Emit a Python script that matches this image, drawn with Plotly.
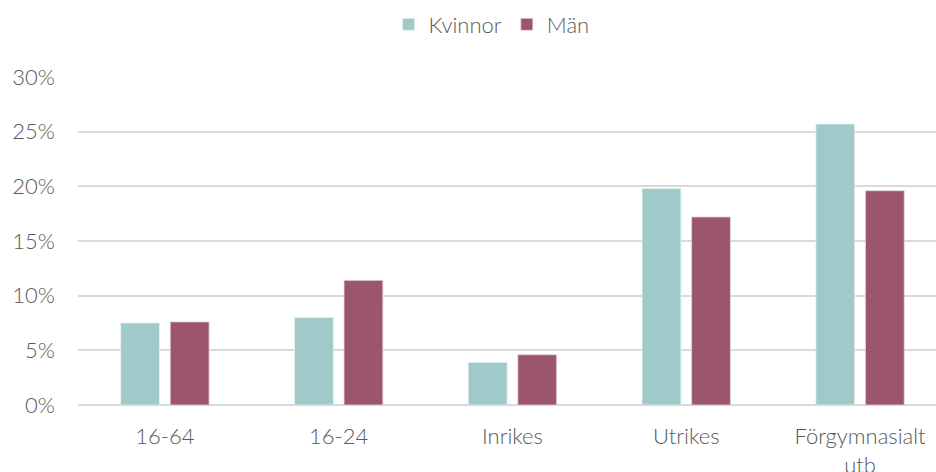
import plotly.graph_objects as go

categories = ["16-64", "16-24", "Inrikes", "Utrikes", "Förgymnasialt<br>utb"]
kvinnor = [7.5, 8.0, 3.9, 19.8, 25.7]
man = [7.6, 11.4, 4.6, 17.2, 19.6]
y_ticks = [0, 5, 10, 15, 20, 25, 30]
y_ticklabels = ["0%", "5%", "10%", "15%", "20%", "25%", "30%"]

TEAL = "#A0CAC9"
MAROON = "#9B556D"
TEXT = "#595959"
FONT = "Lato, 'Open Sans', sans-serif"

fig = go.Figure()
fig.add_trace(go.Bar(name="Kvinnor", x=categories, y=kvinnor,
                     marker=dict(color=TEAL, line=dict(color="#e6f1f0", width=0.8))))
fig.add_trace(go.Bar(name="Män", x=categories, y=man,
                     marker=dict(color=MAROON, line=dict(color="#e9d6dc", width=0.8))))

fig.update_layout(
    width=936, height=472,
    margin=dict(l=78, r=0, t=77, b=67, autoexpand=False),
    plot_bgcolor="white", paper_bgcolor="white",
    barmode="group", bargap=0.43, bargroupgap=0.216,
    font=dict(family=FONT, size=22, color=TEXT, weight=300),
    legend=dict(orientation="h", x=0.482, xanchor="center", y=1.224, yref="paper",
                yanchor="top", font=dict(size=22, color=TEXT, weight=300),
                itemwidth=30, traceorder="normal"),
    showlegend=True,
)
fig.update_xaxes(range=[-0.5, 4.437], showgrid=False, showline=False, ticks="",
                 automargin=False, ticklabelstandoff=16, tickfont=dict(size=22, color=TEXT))
fig.update_yaxes(range=[0, 30], tickvals=y_ticks, ticktext=y_ticklabels,
                 showgrid=True, gridcolor="#d9d9d9", gridwidth=1.5,
                 zeroline=True, zerolinecolor="#d9d9d9", zerolinewidth=1.5,
                 showline=False, ticks="", ticklabelstandoff=22, automargin=False,
                 tickfont=dict(size=22, color=TEXT))

fig.write_html("out.html", config={"displayModeBar": False},
               post_script="document.body.style.margin='0';")
